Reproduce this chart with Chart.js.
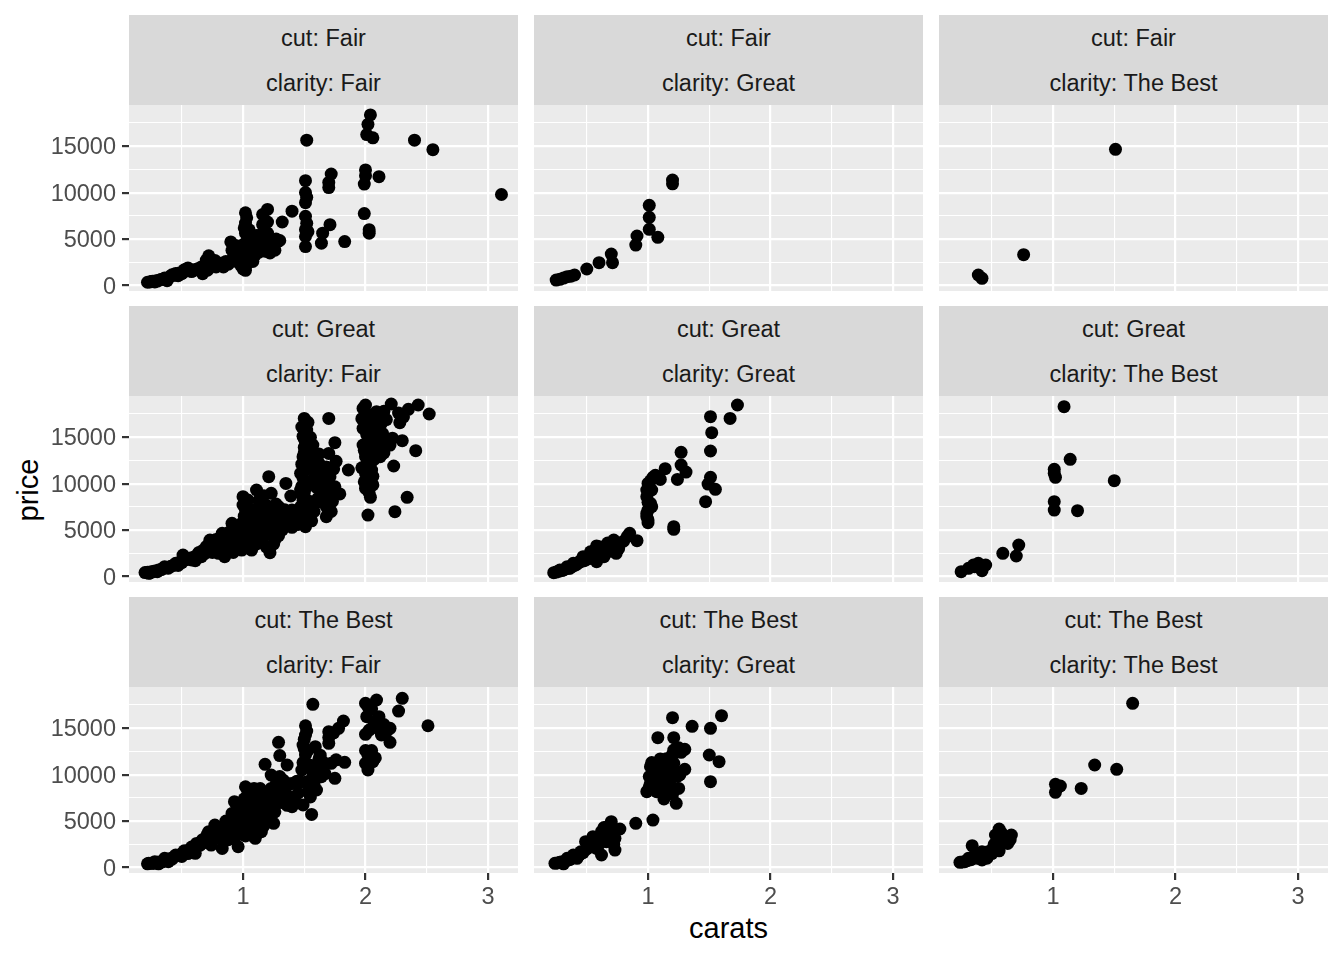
<!DOCTYPE html>
<html lang="en">
<head>
<meta charset="UTF-8">
<title>price vs carats</title>
<script src="https://cdn.jsdelivr.net/npm/chart.js@4.4.1/dist/chart.umd.min.js"></script>
<style>
    body {
        margin: 0;
        width: 1344px;
        height: 960px;
        background: #ffffff;
        position: relative;
        overflow: hidden;
        font-family: 'Liberation Sans', Arial, sans-serif;
    }
    .strip {
        position: absolute;
        width: 389px;
        height: 90px;
        background: #D9D9D9;
        color: #1A1A1A;
        font-size: 23.5px;
        text-align: center;
    }
    .strip div {
        height: 45px;
        line-height: 46px;
    }
    .cell {
        position: absolute;
    }
    .title {
        position: absolute;
        font-size: 29px;
        color: #000000;
        white-space: nowrap;
    }
    #xtitle {
        left: 129px;
        width: 1199px;
        top: 911px;
        line-height: 34px;
        text-align: center;
    }
    #ytitle {
        left: 28px;
        top: 490px;
        line-height: 34px;
        transform: translate(-50%, -50%) rotate(-90deg);
    }
</style>
</head>
<body>
<div class="title" id="xtitle">carats</div>
<div class="title" id="ytitle">price</div>
<script>
const cuts = ['Fair', 'Great', 'The Best'];
const clarities = ['Fair', 'Great', 'The Best'];

const xMajor = [1, 2, 3];
const xMinor = [0.5, 1.5, 2.5];
const yMajor = [0, 5000, 10000, 15000];
const yMinor = [2500, 7500, 12500, 17500];

// [carat, price] per panel
const fair_fair = [
    [0.22,350],[0.25,420],[0.28,380],[0.30,480],[0.33,650],[0.36,800],[0.38,520],[0.40,920],[0.42,1150],
    [0.45,1300],[0.47,1050],[0.50,1280],[0.52,1700],[0.55,1900],[0.56,1660],[0.58,1500],[0.62,1700],
    [0.65,1800],[0.67,1280],[0.70,2750],[0.71,1650],[0.72,3200],[0.74,2800],[0.76,2300],[0.78,2000],
    [0.84,2000],[0.88,2300],[0.90,4700],[0.91,3800],[0.92,3000],[0.95,2600],[0.97,3300],[0.98,4200],
    [1.00,2800],[1.02,7830],[1.02,6730],[1.02,5640],[1.02,4560],[1.02,3460],[1.02,2370],[1.02,1640],
    [1.03,7300],[1.01,6200],[1.05,3000],[1.08,5000],[1.10,3300],[1.12,4300],[1.15,5200],[1.16,7650],
    [1.16,6550],[1.16,5640],[1.18,3700],[1.20,8190],[1.20,6840],[1.20,5650],[1.22,3500],[1.25,4200],
    [1.28,4700],[1.30,4850],[1.32,6840],[1.40,8010],[1.51,11290],[1.51,10010],[1.51,8920],[1.51,7460],
    [1.51,6010],[1.51,5280],[1.51,4190],[1.52,9500],[1.52,6700],[1.53,5800],[1.52,15650],[1.64,4560],
    [1.65,5640],[1.70,10550],[1.70,11100],[1.71,6550],[1.72,12010],[1.83,4730],[1.99,7750],[1.99,10920],
    [2.00,11830],[2.00,12450],[2.01,16260],[2.02,17360],[2.03,6010],[2.03,5640],[2.04,18370],[2.06,15900],
    [2.11,11720],[2.40,15650],[2.55,14630],[3.11,9800],
    [0.24,380],[0.26,450],[0.29,520],[0.32,600],[0.35,700],[0.37,750],[0.39,850],[0.41,1000],[0.44,1100],
    [0.46,1200],[0.48,1350],[0.51,1450],[0.53,1550],[0.57,1650],[0.60,1700],[0.63,1800],[0.66,2000],
    [0.69,2200],[0.73,2100],[0.75,2500],[0.77,2700],[0.79,2300],[0.82,2400],[0.86,2600],
    [0.93,3500],[0.94,4300],[0.96,2900],[0.99,3800],[1.00,4400],[1.01,3200],[1.03,4000],[1.04,5200],
    [1.05,6000],[1.06,3600],[1.07,4600],[1.09,4000],[1.11,5400],[1.13,3600],[1.14,4800],[1.17,4200],
    [1.19,4600],[1.21,4300],[1.23,3900],[1.26,3800],[1.27,5000],[1.02,2000],[1.00,1800],[0.98,2200],
    [1.04,2600],[1.08,2600]
];
const fair_great = [
    [0.25,590],[0.28,670],[0.31,800],[0.34,950],[0.37,1000],[0.40,1130],[0.50,1780],[0.60,2460],
    [0.70,3390],[0.71,2460],[0.90,4360],[0.91,5330],[1.01,8640],[1.01,7340],[1.01,6050],[1.08,5190],
    [1.20,11350],[1.20,10950]
];
const fair_best = [
    [0.39,1130],[0.42,775],[0.76,3320],[1.51,14670]
];
const great_fair = [
    [2.00,18470],[2.21,18580],[2.43,18470],[2.52,17500],[2.35,18000],[2.09,17750],[2.00,16850],[2.13,16500],
    [2.28,16570],[1.98,15960],[2.06,15420],[2.30,14630],[2.41,13550],[2.23,11900],[2.10,13800],[2.20,14160],
    [1.98,14160],[2.00,12910],[2.05,11470],[2.00,11110],[2.00,9500],[2.06,9860],[2.04,8530],[2.34,8530],
    [2.24,6980],[2.02,6620],[2.02,15060],[2.04,17390],[1.97,17000],[2.02,16100],[2.05,15700],[1.99,13600],
    [2.03,13100],[2.01,12100],[1.97,11700],[2.07,12600],[2.12,12900],[2.15,13300],[2.17,16900],[2.09,16100],
    [2.01,10400],
    [1.50,17030],[1.52,15780],[1.51,14520],[1.57,14160],[1.49,12910],[1.51,11470],[1.53,10030],[1.49,8600],
    [1.52,7160],[1.51,5370],[1.70,17030],[1.75,14410],[1.70,13260],[1.86,11470],[1.71,10750],[1.75,9670],
    [1.79,8890],[1.68,7520],[1.68,6440],[1.62,12190],[1.63,10750],[1.64,9320],[1.59,7880],[1.45,6440],
    [1.55,13620],[1.47,11110],[1.47,9320],[1.48,16100],[1.49,15100],[1.50,13900],[1.48,12100],[1.50,10300],
    [1.48,9700],[1.50,7900],[1.48,7100],[1.49,6100],[1.54,8100],[1.56,11900],[1.60,11100],[1.66,8500],
    [1.68,11800],[1.73,8100],[1.58,7000],[1.56,6000],[1.53,6100],
    [1.21,10750],[1.35,10030],[1.11,9320],[1.00,8600],[1.23,8960],[1.39,8670],[1.02,7160],[1.15,7880],
    [1.29,7520],[1.37,6440],[0.99,5730],[1.12,6080],[1.25,5730],[1.32,5010],[1.02,4290],[1.15,3930],
    [1.22,2570],[1.06,3210],[1.26,3930],[0.93,5370],[1.10,5010],[1.18,6800],[1.04,8240],[1.40,7160],
    [1.07,2850],[1.00,7700],[1.04,6200],[1.09,6700],[1.14,5200],[1.19,4500],[1.21,5900],[1.24,6700],
    [1.28,5200],[1.33,6200],[1.38,5800],[1.43,6600],[1.11,3500],[1.04,3700],[0.99,4700],[1.07,4500],
    [1.17,8700],[1.27,7800],[1.34,7200],[1.19,3200],[1.29,4400],
    [0.91,5730],[0.83,4650],[0.88,3570],[0.73,3930],[0.70,3210],[0.80,2500],[0.66,2140],[0.58,1780],
    [0.51,2320],[0.45,1420],[0.36,1060],[0.30,520],[0.23,340],[0.20,420],[0.96,3210],[0.77,3210],
    [0.85,2140],[0.99,2850],[0.94,4200],[0.89,4800],[0.84,3800],[0.79,3500],[0.75,2600],[0.69,2500],
    [0.63,2400],[0.61,1700],[0.55,1900],[0.49,1600],[0.47,1200],[0.41,1100],[0.39,900],[0.33,750],
    [0.26,500],[0.24,380],[0.92,2600],[0.95,3700],
    [0.22,450],[0.25,520],[0.28,600],[0.31,700],[0.34,800],[0.38,950],[0.43,1200],[0.46,1400],[0.50,1500],
    [0.53,1800],[0.57,2000],[0.60,2100],[0.64,2600],[0.67,2800],[0.71,2800],[0.72,3500],[0.76,3000],
    [0.78,4000],[0.81,3100],[0.82,4300],[0.86,3300],[0.87,4500],[0.90,3900],[0.93,3300],[0.96,4900],
    [0.97,5500],[0.98,3800],[1.01,5200],[1.01,6500],[1.03,3300],[1.05,5400],[1.06,7200],[1.08,3900],
    [1.09,5800],[1.11,7300],[1.12,4600],[1.13,8200],[1.16,6300],[1.16,4400],[1.18,5400],[1.20,7600],
    [1.22,4900],[1.23,6200],[1.25,3500],[1.26,7200],[1.27,4600],[1.30,5800],[1.31,6800],[1.33,5400],
    [1.36,6600],[1.40,5300],[1.42,6000],[1.45,5600],[1.47,7500],[1.49,8200],[1.50,9000],[1.51,9500],
    [1.49,10600],[1.50,11800],[1.51,12500],[1.50,13300],[1.50,14800],[1.51,16500],[1.53,16600],[1.55,15000],
    [1.57,12600],[1.58,10300],[1.60,9600],[1.61,8400],[1.59,10800],[1.64,11600],[1.66,9900],[1.69,10300],
    [1.70,9000],[1.72,7000],[1.74,11600],[1.76,12400],[1.62,13200],
    [1.98,18100],[2.00,17600],[2.03,16500],[2.06,16300],[2.01,15300],[2.04,14500],[2.07,14000],[2.09,13400],
    [2.00,13300],[2.02,11800],[2.05,12400],[2.10,14600],[2.14,15400],[2.18,14300],[2.22,14900],[2.11,17400],
    [2.15,17800],[2.27,17600],[2.31,17200],[1.99,10200],[2.06,10800],[2.03,9000]
];
const great_great = [
    [1.73,18470],[1.67,17030],[1.51,17210],[1.52,15490],[1.51,13520],[1.27,13370],[1.27,12010],[1.31,11250],
    [1.24,10460],[1.14,11610],[1.10,10460],[1.51,10680],[1.49,9960],[1.55,9390],[1.47,8060],[1.21,5370],
    [1.21,5080],[1.04,10680],[1.00,10030],[0.99,9320],[0.99,8600],[1.02,7880],[1.00,7160],[0.99,6440],
    [1.00,5800],[1.03,9320],[1.03,7520],
    [0.85,4650],[0.91,3860],[0.72,3930],[0.74,2500],[0.66,3210],[0.58,3290],[0.58,1600],[0.53,2670],
    [0.47,2140],[0.39,1420],[0.34,1060],[0.28,700],[0.23,410],[0.64,2140],[0.69,2850],[0.77,3570],
    [0.45,1600],[0.36,880],[0.31,700],[0.55,2500],[0.61,2850],
    [0.25,480],[0.27,560],[0.30,650],[0.32,780],[0.35,900],[0.38,1050],[0.41,1250],[0.43,1450],[0.46,1800],
    [0.49,2000],[0.51,1900],[0.54,2300],[0.56,2600],[0.59,2500],[0.62,2700],[0.65,2500],[0.68,2700],
    [0.70,3100],[0.73,3300],[0.76,3000],[0.80,3800],[0.83,4300],[0.57,2900],[0.60,3200],[0.52,2200],
    [0.48,1700],[0.44,1600],[0.67,3600],[0.71,3000],[1.00,8000],[1.01,9600],[1.02,10300],[0.99,6800],
    [1.00,6100],[1.06,10900]
];
const great_best = [
    [1.09,18290],[1.14,12620],[1.01,11540],[1.01,11110],[1.02,10680],[1.50,10320],[1.01,8060],[1.01,7160],
    [1.20,7090],[0.72,3390],[0.70,2210],[0.59,2500],[0.45,1240],[0.39,1420],[0.35,1240],[0.31,880],
    [0.25,520],[0.42,630],[0.36,1060]
];
const best_fair = [
    [2.30,18220],[2.09,18040],[2.00,17680],[2.27,16850],[2.11,16240],[2.01,16240],[2.51,15270],[2.20,14990],
    [2.10,14990],[2.00,14340],[2.13,14270],[2.20,13480],[2.02,12120],[2.00,11220],[2.06,11400],[2.02,10500],
    [1.57,17570],[1.82,15780],[1.78,14990],[1.70,14630],[1.70,13370],[1.51,15270],[1.51,14270],[1.49,13190],
    [1.59,13010],[1.83,11330],[1.72,11220],[1.66,11040],[1.75,9600],[1.64,9780],[1.56,10500],[1.51,12120],
    [1.51,11040],[1.52,9240],[1.53,8170],[1.60,8350],[1.56,5720],[1.49,6730],
    [1.29,13480],[1.30,12050],[1.18,11110],[1.36,11040],[1.23,9960],[1.40,9060],[1.32,8240],[1.40,6550],
    [1.34,7270],[1.23,8520],[1.02,8700],[1.09,8520],[0.93,7090],[0.99,6010],[1.12,6910],[1.18,6010],
    [1.25,4760],[1.10,3140],[0.96,2240],[0.91,5830],[0.85,4580],[1.02,4580],[1.15,3860],[0.83,2060],
    [0.77,4580],[0.72,3860],[0.69,3140],[0.74,2420],[0.64,2420],[0.58,2060],[0.53,1700],[0.45,1350],
    [0.36,990],[0.28,630],[0.23,450],[0.31,400],[0.39,630],[0.61,1530],[0.80,3140],[0.91,3860],
    [1.07,5290],[0.93,3140],
    [1.05,7500],[1.10,7800],[1.15,7600],[1.20,7200],[1.28,7600],[1.00,5300],[1.05,4200],[1.10,6200],
    [1.15,4900],[1.22,5500],[0.95,4400],[0.98,3600],[1.08,4000],[1.30,9800],[1.45,8000],[1.48,10500],
    [1.50,12800],[1.62,11700],[0.88,3000],[0.66,2800],[0.55,1500],[0.50,1200],[0.42,900],[0.34,600],
    [0.27,450],
    [0.22,400],[0.25,450],[0.27,500],[0.30,560],[0.32,600],[0.35,700],[0.38,800],[0.40,950],[0.43,1100],
    [0.47,1300],[0.50,1500],[0.52,1800],[0.56,1900],[0.58,2200],[0.60,2000],[0.62,2600],[0.65,2400],
    [0.67,3000],[0.70,2700],[0.71,3600],[0.73,3200],[0.75,3500],[0.78,3400],[0.80,3800],[0.82,4000],
    [0.84,3400],[0.86,5000],[0.89,4000],[0.90,4600],[0.92,5200],[0.93,4300],[0.94,6000],[0.97,5000],
    [0.98,6500],[1.00,4000],[1.01,5900],[1.01,7400],[1.02,3400],[1.03,6600],[1.04,8000],[1.06,5600],
    [1.07,7000],[1.08,3400],[1.09,4700],[1.11,5500],[1.12,7800],[1.13,4200],[1.14,8500],[1.16,5800],
    [1.17,4500],[1.19,6600],[1.21,8100],[1.22,5000],[1.24,7000],[1.26,6000],[1.27,9000],[1.29,8600],
    [1.31,7000],[1.33,9400],[1.35,8000],[1.36,6700],[1.38,9000],[1.42,7500],[1.44,9300],[1.47,9200],
    [1.49,11300],[1.50,13800],[1.52,14700],[1.53,12600],[1.55,11000],[1.57,9800],[1.58,9000],[1.60,10600],
    [1.63,12100],[1.65,11400],[1.67,10100],[1.70,14000],[1.74,14500],[1.76,11600],[1.55,7600],
    [2.02,17300],[2.05,17100],[2.07,15500],[2.03,14800],[2.15,15400],[2.17,14600],[2.05,12600],[2.00,12600],
    [2.08,11800]
];
const best_great = [
    [1.60,16350],[1.20,16135],[1.36,15200],[1.51,14990],[1.08,13980],[1.21,13980],[1.21,12650],[1.30,12730],
    [1.50,12120],[1.58,11400],[1.51,9240],[1.30,10570],[1.10,11690],[1.02,10860],[1.15,11040],[1.21,11220],
    [1.06,10140],[1.14,9780],[1.02,9060],[1.18,8890],[1.25,8520],[0.99,8170],[1.07,8170],[1.13,7380],
    [1.23,6910],[1.04,5110],[0.90,4760],[0.70,4940],[0.77,4150],[0.73,3140],[0.73,1880],[0.62,1350],
    [0.62,3860],[0.55,3320],[0.53,2600],[0.49,2780],[0.66,2780],[0.58,2060],[0.45,1700],[0.39,1350],
    [0.34,990],[0.30,630],[0.24,450],[0.42,990],[0.69,3680],[0.31,400],[1.04,10320],[1.18,9960],
    [0.26,500],[0.28,560],[0.33,700],[0.36,850],[0.38,1050],[0.41,1200],[0.44,1350],[0.47,1600],[0.50,2000],
    [0.52,2300],[0.55,2700],[0.57,2900],[0.60,3100],[0.63,3300],[0.65,3000],[0.66,3800],[0.68,3300],
    [0.71,3900],[0.72,2500],[0.60,2500],[0.56,2200],[0.64,4300],[0.68,4500],
    [1.01,9800],[1.03,11300],[1.05,10600],[1.07,11000],[1.09,10400],[1.10,9300],[1.12,10300],[1.13,10900],
    [1.15,11700],[1.17,10600],[1.19,11800],[1.20,12200],[1.23,12500],[1.25,12900],[1.27,12400],[1.22,10400],
    [1.24,9800],[1.26,10000],[1.08,9000],[1.12,8600],[1.16,8200],[1.20,7900],[1.04,8600],[1.01,8700]
];
const best_best = [
    [1.65,17680],[1.34,11040],[1.52,10570],[1.02,8960],[1.06,8780],[1.02,8100],[1.23,8520],[0.56,4150],
    [0.66,3500],[0.53,3500],[0.61,2780],[0.51,2060],[0.34,2350],[0.42,1700],[0.36,1350],[0.31,990],
    [0.24,560],[0.42,810],[0.47,1700],[0.28,630],
    [0.26,600],[0.30,750],[0.33,850],[0.38,1000],[0.40,1200],[0.44,1300],[0.46,1000],[0.50,1500],
    [0.52,2500],[0.54,2800],[0.58,3700],[0.60,3400],[0.63,2600],[0.65,3000],[0.56,1800]
];

const panels = [
    [fair_fair, fair_great, fair_best],
    [great_fair, great_great, great_best],
    [best_fair, best_great, best_best]
];

const X_MIN = 0.069, X_MAX = 3.245;
const Y_MIN = -590, Y_MAX = 19440;
const FONT = "'Liberation Sans', Arial, sans-serif";

const panelBg = {
    id: 'panelBg',
    beforeDraw(chart) {
        const a = chart.chartArea;
        const ctx = chart.ctx;
        ctx.save();
        ctx.fillStyle = '#EBEBEB';
        ctx.fillRect(a.left, a.top, a.right - a.left, a.bottom - a.top);
        ctx.restore();
    }
};

function isIn(list, ctx) {
    return ctx.tick && list.includes(ctx.tick.value);
}

// keep the plot area fixed: no overflow padding from tick labels
function noPad(s) {
    s.paddingTop = 0;
    s.paddingBottom = 0;
    s.paddingLeft = 0;
    s.paddingRight = 0;
}

function makePanel(r, c) {
    const left = c === 0;
    const bottom = r === 2;
    const L = 129 + 405 * c;
    const T = 105 + 291 * r;

    const strip = document.createElement('div');
    strip.className = 'strip';
    strip.style.left = L + 'px';
    strip.style.top = (T - 90) + 'px';
    strip.innerHTML = '<div>cut: ' + cuts[r] + '</div><div>clarity: ' + clarities[c] + '</div>';
    document.body.appendChild(strip);

    // room under the plot: x labels on the bottom row, or space for the "0" label on the left column
    const under = bottom ? 50 : (left ? 12 : 0);
    const w = left ? L + 389 : 389;
    const h = 186 + under;
    const box = document.createElement('div');
    box.className = 'cell';
    box.style.left = (left ? 0 : L) + 'px';
    box.style.top = T + 'px';
    box.style.width = w + 'px';
    box.style.height = h + 'px';
    const cv = document.createElement('canvas');
    box.appendChild(cv);
    document.body.appendChild(box);

    new Chart(cv, {
        type: 'scatter',
        data: {
            datasets: [{
                data: panels[r][c].map(p => ({ x: p[0], y: p[1] })),
                backgroundColor: '#000000',
                borderWidth: 0,
                pointRadius: 6.5,
                pointHoverRadius: 6.5
            }]
        },
        options: {
            responsive: true,
            maintainAspectRatio: false,
            animation: false,
            events: [],
            layout: { padding: 0, autoPadding: false },
            plugins: { legend: { display: false }, tooltip: { enabled: false } },
            scales: {
                x: {
                    type: 'linear',
                    min: X_MIN,
                    max: X_MAX,
                    afterBuildTicks: s => {
                        s.ticks = xMinor.concat(xMajor).sort((a, b) => a - b).map(v => ({ value: v }));
                    },
                    afterFit: s => { s.height = under; noPad(s); },
                    border: { display: false },
                    grid: {
                        color: '#FFFFFF',
                        lineWidth: ctx => isIn(xMajor, ctx) ? 2.2 : 1.1,
                        drawTicks: bottom,
                        tickLength: 7,
                        tickWidth: 2.2,
                        tickColor: ctx => isIn(xMajor, ctx) ? '#333333' : 'rgba(0,0,0,0)'
                    },
                    ticks: {
                        display: bottom,
                        autoSkip: false,
                        maxRotation: 0,
                        padding: 3,
                        color: '#4D4D4D',
                        font: { family: FONT, size: 23.5 },
                        callback: v => xMajor.includes(v) ? String(v) : ''
                    }
                },
                y: {
                    type: 'linear',
                    min: Y_MIN,
                    max: Y_MAX,
                    afterBuildTicks: s => {
                        s.ticks = yMinor.concat(yMajor).sort((a, b) => a - b).map(v => ({ value: v }));
                    },
                    afterFit: s => { s.width = left ? 129 : 0; noPad(s); },
                    border: { display: false },
                    grid: {
                        color: '#FFFFFF',
                        lineWidth: ctx => isIn(yMajor, ctx) ? 2.2 : 1.1,
                        drawTicks: left,
                        tickLength: 7,
                        tickWidth: 2.2,
                        tickColor: ctx => isIn(yMajor, ctx) ? '#333333' : 'rgba(0,0,0,0)'
                    },
                    ticks: {
                        display: left,
                        autoSkip: false,
                        padding: 6,
                        labelOffset: 1.5,
                        color: '#4D4D4D',
                        font: { family: FONT, size: 23.5 },
                        callback: v => yMajor.includes(v) ? String(v) : ''
                    }
                }
            }
        },
        plugins: [panelBg]
    });
}

for (let r = 0; r < 3; r++) {
    for (let c = 0; c < 3; c++) {
        makePanel(r, c);
    }
}
</script>
</body>
</html>
